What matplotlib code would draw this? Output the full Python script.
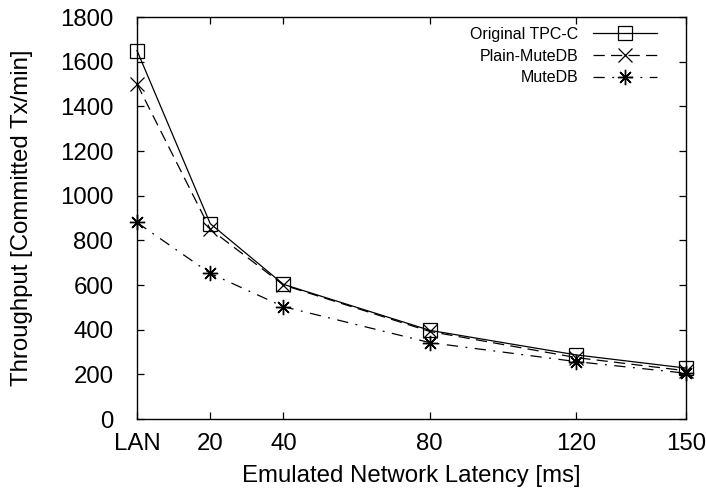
import numpy as np
import matplotlib.pyplot as plt

plt.rcParams['font.family'] = ['Liberation Sans', 'DejaVu Sans']

# emulated latency (LAN drawn at 0)
latency = [0, 20, 40, 80, 120, 150]
tick_labels = ['LAN', '20', '40', '80', '120', '150']

original_tpcc = [1650, 875, 603, 397, 287, 228]
plain_mutedb = [1500, 850, 600, 392, 275, 216]
mutedb = [880, 652, 503, 342, 257, 205]

fig = plt.figure(figsize=(7.06, 4.95), dpi=100)
ax = fig.add_axes([137/706, 1 - 419/495, 549/706, 402/495])

ax.plot(latency, original_tpcc, color='black', lw=0.9, ls='-', clip_on=False,
        marker='s', ms=10, mfc='none', mew=0.9, label='Original TPC-C')
ax.plot(latency, plain_mutedb, color='black', lw=0.9, dashes=[9, 5], clip_on=False,
        marker='x', ms=10, mew=0.9, label='Plain-MuteDB')
ax.plot(latency, mutedb, color='black', lw=0.9, dashes=[9, 6, 1.5, 6], clip_on=False,
        marker=(8, 2, 0), ms=11, mew=1.0, label='MuteDB')

ax.set_xlim(0, 150)
ax.set_ylim(0, 1800)
ax.set_xticks(latency)
ax.set_xticklabels(tick_labels)
ax.set_yticks(np.arange(0, 1801, 200))

ax.tick_params(axis='both', direction='in', length=5, width=0.9,
               top=True, right=True, labelsize=17.3)
ax.tick_params(axis='y', pad=17)
ax.tick_params(axis='x', pad=10)
for s in ax.spines.values():
    s.set_linewidth(1.0)

ax.set_xlabel('Emulated Network Latency [ms]', fontsize=17.3, labelpad=7)
ax.set_ylabel('Throughput [Committed Tx/min]', fontsize=17.3, labelpad=19)

ax.legend(loc='upper right', bbox_to_anchor=(0.947, 0.975), frameon=False,
          markerfirst=False, numpoints=1, handlelength=4, handletextpad=0.9,
          labelspacing=0.42, borderpad=0, borderaxespad=0, fontsize=11.5)

fig.savefig('out.png', dpi=100)
